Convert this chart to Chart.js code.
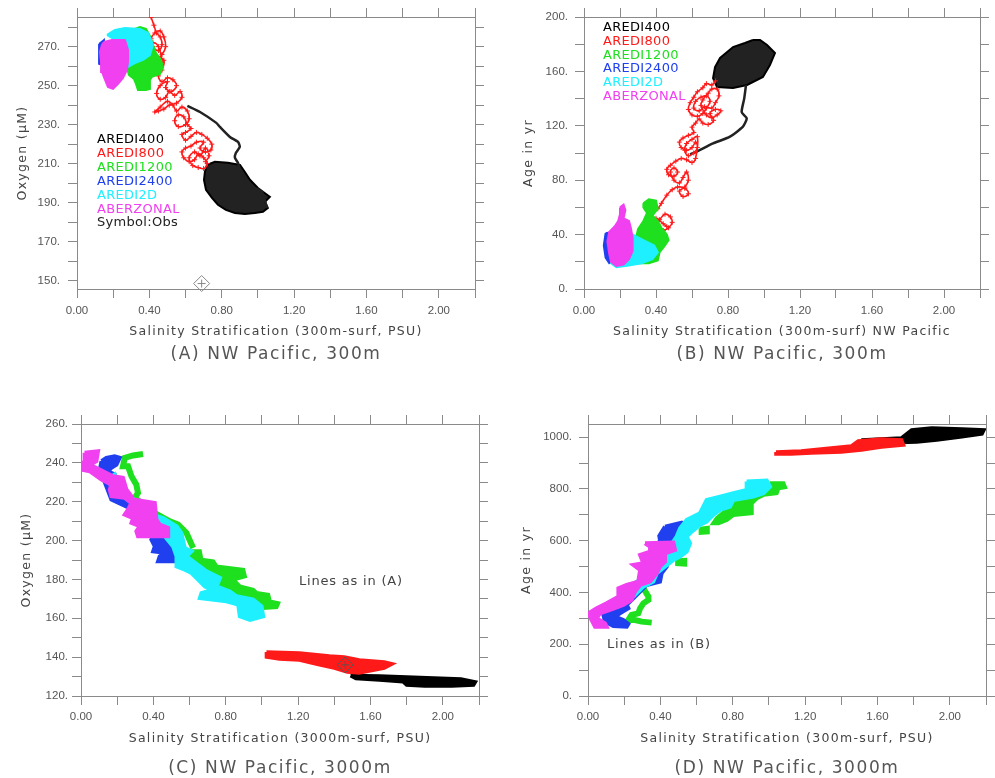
<!DOCTYPE html>
<html>
<head>
<meta charset="utf-8">
<script src="https://cdn.jsdelivr.net/npm/chart.js@4.4.1/dist/chart.umd.min.js"></script>
<style>
  body { margin: 0; background: #fff; width: 995px; height: 778px; position: relative; overflow: hidden; font-family: "DejaVu Sans", sans-serif; }
  canvas { position: absolute; }
  .t { position: absolute; white-space: nowrap; transform: translate(-50%, -50%); color: #444; }
  .ax { font-size: 12.5px; letter-spacing: 1.3px; }
  .cap { font-size: 17px; letter-spacing: 1.6px; color: #555; }
  .rot { transform: translate(-50%, -50%) rotate(-90deg); }
  .lg { position: absolute; white-space: nowrap; transform: translateY(-50%); font-size: 13px; letter-spacing: 0.3px; }
  .note { position: absolute; white-space: nowrap; transform: translateY(-50%); font-size: 13px; letter-spacing: 0.8px; color: #444; }
</style>
</head>
<body>
<canvas id="panelA" width="497" height="389" style="left:0;top:0"></canvas>
<canvas id="panelB" width="498" height="389" style="left:497px;top:0"></canvas>
<canvas id="panelC" width="497" height="389" style="left:0;top:389px"></canvas>
<canvas id="panelD" width="498" height="389" style="left:497px;top:389px"></canvas>

<div class="t ax" style="left:276px;top:330px">Salinity Stratification (300m-surf, PSU)</div>
<div class="t cap" style="left:276px;top:353px">(A) NW Pacific, 300m</div>
<div class="t ax rot" style="left:21px;top:153px">Oxygen (μM)</div>

<div class="t ax" style="left:782px;top:330px">Salinity Stratification (300m-surf) NW Pacific</div>
<div class="t cap" style="left:782px;top:353px">(B) NW Pacific, 300m</div>
<div class="t ax rot" style="left:527px;top:153px">Age in yr</div>

<div class="t ax" style="left:280px;top:737px">Salinity Stratification (3000m-surf, PSU)</div>
<div class="t cap" style="left:280px;top:767px">(C) NW Pacific, 3000m</div>
<div class="t ax rot" style="left:25px;top:560px">Oxygen (μM)</div>

<div class="t ax" style="left:787px;top:737px">Salinity Stratification (300m-surf, PSU)</div>
<div class="t cap" style="left:787px;top:767px">(D) NW Pacific, 3000m</div>
<div class="t ax rot" style="left:525px;top:560px">Age in yr</div>

<div class="note" style="left:299px;top:580px">Lines as in (A)</div>
<div class="note" style="left:607px;top:643px">Lines as in (B)</div>

<script>
// series
const seriesNames = ["AREDI400", "AREDI800", "AREDI1200", "AREDI2400", "AREDI2D", "ABERZONAL"];
const seriesColors = ["#000000", "#ff1a1a", "#1ee01e", "#2040f0", "#1ef0ff", "#f040f0"];

// axes
const xTicks = [0, 0.2, 0.4, 0.6, 0.8, 1.0, 1.2, 1.4, 1.6, 1.8, 2.0, 2.2];
const xLabels = [0, 0.4, 0.8, 1.2, 1.6, 2.0];
const aYTicks = [150, 160, 170, 180, 190, 200, 210, 220, 230, 240, 250, 260, 270, 280];
const aYLabels = [150, 170, 190, 210, 230, 250, 270];
const bYTicks = [0, 20, 40, 60, 80, 100, 120, 140, 160, 180, 200];
const bYLabels = [0, 40, 80, 120, 160, 200];
const cYTicks = [120, 130, 140, 150, 160, 170, 180, 190, 200, 210, 220, 230, 240, 250, 260];
const cYLabels = [120, 140, 160, 180, 200, 220, 240, 260];
const dYTicks = [0, 100, 200, 300, 400, 500, 600, 700, 800, 900, 1000];
const dYLabels = [0, 200, 400, 600, 800, 1000];

// (A) 300m oxygen
const aBlackTrail = [[0.61,239.6],[0.68,236.5],[0.77,230.9],[0.79,228.8],[0.845,223.7],[0.89,221.1],[0.90,218.6],[0.878,215.5],[0.873,213.0],[0.89,210.4],[0.90,206.8],[0.928,203.2],[0.972,198.1],[1.022,195.5],[1.05,187.3]];
const aBlack = [[0.718,209.3],[0.762,210.9],[0.834,210.4],[0.901,209.3],[0.928,205.7],[0.956,201.7],[1.0,197.5],[1.028,195.5],[1.066,193.0],[1.039,190.4],[1.055,187.3],[1.028,185.3],[0.983,184.7],[0.928,184.2],[0.873,184.7],[0.823,186.3],[0.779,188.9],[0.746,192.4],[0.713,196.5],[0.702,201.6],[0.707,205.7],[0.718,209.3]];
const aRed = [[0.41,285],[0.425,281],[0.44,277],[0.46,275],[0.47,271],[0.45,268],[0.42,270],[0.41,274],[0.43,277],[0.46,278],[0.48,275],[0.49,270],[0.47,266],[0.44,264],[0.41,266],[0.40,270],[0.42,272],[0.45,270],[0.47,262],[0.45,259],[0.43,261],[0.44,265],[0.48,263],[0.47,258],[0.45,255],
    [0.47,252],[0.50,254],[0.53,253],[0.55,250],[0.52,247],[0.49,249],[0.50,252],[0.46,250],[0.44,246],[0.46,243],[0.49,244],[0.51,247],[0.54,245],[0.57,247],[0.58,244],[0.55,241],[0.51,240],[0.48,238],[0.45,237],[0.43,236.5],[0.46,239],[0.50,242],[0.53,240],[0.55,237],
    [0.58,239],[0.61,237],[0.62,233],[0.60,230],[0.56,229],[0.54,232],[0.56,235],[0.59,234],[0.61,230],[0.63,228],[0.60,226],
    [0.58,225],[0.60,222],[0.63,224],[0.66,226],[0.69,225],[0.72,223],[0.745,220],[0.74,217],[0.71,216],[0.68,218],[0.70,221],[0.66,221],[0.63,219],[0.60,218],[0.58,216],[0.59,213],[0.62,211],[0.65,212],[0.67,215],[0.70,213],[0.72,210],[0.70,207.5],[0.67,208],[0.64,209],[0.62,213],[0.65,216],[0.68,214],[0.71,218],[0.73,214],[0.71,211]];
const aGreen = [[0.304,278.6],[0.348,280.1],[0.381,279.1],[0.403,275.5],[0.420,270.9],[0.436,266.8],[0.464,263.2],[0.475,259.6],[0.459,256.0],[0.414,254.5],[0.403,252.9],[0.403,248.3],[0.381,247.8],[0.337,247.8],[0.326,250.9],[0.315,253.4],[0.287,255.5],[0.276,259.1],[0.293,262.2],[0.348,264.2],[0.392,267.3],[0.348,273.4],[0.304,278.6]];
const aBlue = [[0.122,271.4],[0.149,273.4],[0.149,260.2],[0.122,261.2],[0.122,271.4]];
const aCyan = [[0.166,276.0],[0.210,278.6],[0.265,279.6],[0.348,279.1],[0.392,277.0],[0.420,270.9],[0.403,265.7],[0.365,263.2],[0.320,261.6],[0.282,259.6],[0.265,268.3],[0.210,273.4],[0.166,276.0]];
const aMagenta = [[0.149,272.4],[0.193,273.4],[0.265,273.4],[0.282,268.3],[0.282,262.2],[0.276,258.1],[0.254,254.0],[0.227,250.9],[0.199,248.3],[0.171,249.3],[0.155,252.9],[0.138,257.0],[0.133,262.2],[0.127,267.3],[0.138,270.9],[0.149,272.4]];
const aObs = [[0.689,148.5]];

// (B) 300m age
const bBlackTrail = [[0.90,150],[0.89,140],[0.876,130],[0.904,125.5],[0.883,119.4],[0.811,112],[0.717,107],[0.626,101],[0.589,99]];
const bBlack = [[0.939,183.1],[0.894,180.9],[0.828,177.9],[0.756,169.9],[0.728,163.2],[0.717,155.1],[0.739,148.5],[0.828,147.8],[0.906,150.0],[0.994,155.9],[1.033,164.7],[1.061,173.5],[1.017,179.4],[0.978,183.1],[0.939,183.1]];
const bRed = [[0.73,153],[0.71,150],[0.68,151],[0.66,148],[0.63,145],[0.61,141],[0.59,137],[0.58,132],[0.60,128],[0.63,127],[0.66,129],[0.68,133],[0.70,138],[0.68,142],[0.65,141],[0.62,138],[0.61,133],[0.64,131],[0.67,134],[0.71,133],[0.73,137],[0.75,142],[0.74,147],[0.71,147],[0.69,144],[0.66,139],[0.65,135],[0.68,128],[0.71,126],[0.74,128],[0.76,131],[0.73,132],[0.70,129],[0.72,124],[0.69,121],[0.66,122],[0.64,125],[0.62,122],[0.60,119],
    [0.61,115],[0.58,113],[0.55,111],[0.53,108],[0.54,104],[0.57,102],[0.60,104],[0.62,108],[0.63,104],[0.61,100],[0.58,98],[0.56,102],[0.57,107],[0.60,110],[0.63,112],[0.62,96],[0.60,93],
    [0.57,95],[0.54,96],[0.51,94],[0.48,91],[0.46,88],[0.47,84],[0.50,83],[0.52,86],[0.50,89],[0.48,86],[0.50,80],[0.53,78],[0.55,82],[0.57,86],[0.58,80],[0.56,75],[0.53,72],[0.55,68],[0.58,70],[0.56,74],[0.52,75],[0.49,73],
    [0.46,69],[0.43,63],[0.41,59],
    [0.38,57],[0.36,54],[0.35,50],[0.37,47],[0.40,48],[0.42,51],[0.45,55],[0.48,53],[0.49,49],[0.47,45],[0.44,43],[0.41,42],[0.38,44],[0.37,48],[0.40,52],[0.44,48],[0.46,46]];
const bGreen = [[0.33,63],[0.36,66],[0.40,65],[0.41,59],[0.38,54],[0.41,50],[0.43,45],[0.46,40],[0.47,36],[0.45,32],[0.42,27],[0.41,21],[0.36,19],[0.30,19],[0.27,22],[0.27,30],[0.29,38],[0.30,44],[0.33,50],[0.35,56],[0.33,60],[0.33,63]];
const bBlue = [[0.12,41],[0.16,42],[0.17,22],[0.14,19],[0.12,23],[0.11,32],[0.12,41]];
const bCyan = [[0.16,40],[0.27,40],[0.33,36],[0.39,32],[0.41,27],[0.38,22],[0.32,19],[0.24,17],[0.18,16],[0.15,19],[0.15,30],[0.16,40]];
const bMagenta = [[0.20,60],[0.22,62],[0.23,58],[0.22,52],[0.25,50],[0.26,45],[0.27,38],[0.27,28],[0.25,22],[0.22,18],[0.18,17],[0.15,20],[0.14,26],[0.13,35],[0.14,42],[0.17,46],[0.19,50],[0.20,55],[0.20,60]];

// (C) 3000m oxygen
const cBlack = [[1.49,130.5],[1.65,130.3],[1.80,129.8],[1.95,129.3],[2.10,128.8],[2.18,127.2],[2.17,125.6],[2.05,125.2],[1.90,125.2],[1.80,125.6],[1.78,127.3],[1.65,128.2],[1.52,129.0],[1.49,130.5]];
const cRed = [[1.025,142.7],[1.207,142.1],[1.373,140.6],[1.455,140.1],[1.538,138.5],[1.676,137.5],[1.720,136.5],[1.676,134.4],[1.621,133.4],[1.538,131.8],[1.472,132.4],[1.400,134.4],[1.318,136.0],[1.207,138.5],[1.097,139.1],[1.025,140.1],[1.025,142.7]];
const cGreenTop = [[0.343,244.6],[0.288,243.8],[0.242,242.6],[0.232,238.3],[0.260,238.3],[0.279,233.1],[0.306,228.8],[0.315,224.5],[0.297,222.0],[0.334,219.4],[0.389,215.1],[0.491,209.9],[0.537,208.2],[0.583,203.9],[0.620,196.2]];
const cGreen = [[0.611,194.5],[0.657,194.5],[0.666,190.2],[0.731,189.3],[0.749,186.7],[0.897,185.0],[0.906,181.6],[0.841,179.9],[0.878,176.4],[0.952,174.7],[0.970,173.0],[1.035,172.1],[1.044,168.7],[1.090,167.8],[1.081,165.8],[1.007,165.3],[0.915,168.7],[0.860,172.1],[0.786,176.4],[0.731,178.5],[0.657,183.3],[0.601,188.5],[0.583,191.9],[0.611,194.5]];
const cBlue = [[0.113,240.9],[0.140,242.6],[0.186,243.4],[0.214,242.6],[0.196,239.1],[0.168,237.4],[0.149,235.7],[0.186,234.0],[0.196,231.4],[0.159,228.8],[0.186,227.1],[0.223,224.5],[0.242,221.1],[0.389,213.4],[0.417,207.4],[0.454,204.8],[0.472,200.5],[0.509,197.0],[0.528,191.9],[0.518,189.3],[0.426,189.3],[0.435,191.9],[0.472,193.6],[0.399,194.5],[0.408,197.0],[0.389,200.5],[0.399,202.2],[0.362,203.9],[0.288,215.9],[0.168,221.1],[0.140,228.0],[0.122,232.3],[0.103,235.7],[0.113,240.9]];
const cCyan = [[0.159,232.3],[0.186,234.0],[0.196,230.5],[0.242,224.5],[0.306,220.2],[0.389,213.4],[0.454,211.6],[0.528,207.4],[0.555,203.9],[0.565,199.6],[0.574,196.2],[0.611,194.5],[0.583,191.9],[0.657,186.7],[0.694,184.2],[0.768,180.7],[0.749,176.4],[0.823,173.8],[0.860,171.3],[0.952,169.6],[0.998,166.1],[1.007,161.0],[0.934,159.2],[0.878,161.0],[0.869,167.0],[0.804,168.7],[0.657,170.4],[0.666,173.0],[0.731,174.7],[0.685,176.4],[0.657,179.0],[0.611,183.3],[0.574,185.0],[0.528,186.7],[0.528,191.9],[0.509,197.0],[0.463,202.2],[0.417,207.4],[0.389,210.8],[0.325,215.9],[0.279,219.4],[0.232,222.8],[0.177,227.1],[0.149,230.5],[0.159,232.3]];
const cMagenta = [[0.020,245.2],[0.094,246.0],[0.085,240.9],[0.048,239.1],[0.103,236.6],[0.177,233.1],[0.232,232.3],[0.251,226.3],[0.279,222.8],[0.288,221.1],[0.408,219.4],[0.417,210.8],[0.435,208.2],[0.482,206.5],[0.482,202.2],[0.315,202.2],[0.306,204.8],[0.325,207.4],[0.279,209.1],[0.288,211.6],[0.242,213.4],[0.260,215.9],[0.279,219.4],[0.242,222.0],[0.168,222.8],[0.159,226.3],[0.168,228.8],[0.113,231.4],[0.048,235.7],[0.0,236.6],[0.002,239.1],[0.020,240.9],[0.020,245.2]];
const cObs = [[1.46,136.0]];

// (D) 3000m age
const dBlack = [[1.511,989.6],[1.733,997.3],[1.789,1028.2],[1.900,1036.0],[2.067,1032.1],[2.189,1028.2],[2.178,1012.8],[2.067,1001.2],[1.928,989.6],[1.817,981.8],[1.622,978.0],[1.511,978.0],[1.511,989.6]];
const dRed = [[1.039,943.2],[1.178,947.0],[1.344,958.6],[1.456,966.4],[1.494,985.7],[1.622,993.4],[1.733,989.6],[1.744,970.2],[1.622,962.5],[1.511,950.9],[1.400,943.2],[1.233,939.3],[1.122,935.4],[1.039,935.4],[1.039,943.2]];
const dGreen = [[1.006,822.2],[1.080,822.2],[1.089,806.7],[1.053,802.8],[1.043,783.5],[0.970,777.1],[0.933,764.2],[0.905,744.8],[0.905,706.2],[0.804,699.7],[0.767,680.4],[0.721,667.5],[0.693,667.5],[0.712,686.9],[0.767,719.1],[0.804,744.8],[0.877,764.2],[0.914,783.5],[0.988,796.4],[1.006,822.2]];
const dGreenBitA = [[0.62,648],[0.665,652],[0.665,630],[0.62,628],[0.62,648]];
const dGreenBitB = [[0.49,526],[0.54,528],[0.54,506],[0.49,508],[0.49,526]];
const dGreenLow = [[0.306,416.2],[0.334,384.0],[0.334,371.1],[0.306,358.2],[0.288,338.9],[0.278,319.6],[0.241,313.1],[0.223,293.8],[0.260,293.8],[0.297,287.4],[0.352,283.5]];
const dBlue = [[0.426,654.6],[0.518,670.1],[0.546,654.6],[0.527,635.3],[0.490,628.9],[0.472,603.1],[0.490,577.3],[0.453,558.0],[0.417,538.7],[0.435,500.0],[0.407,474.2],[0.398,442.0],[0.324,429.1],[0.288,403.4],[0.241,371.1],[0.214,351.8],[0.223,338.9],[0.177,319.6],[0.149,306.7],[0.195,293.8],[0.223,278.4],[0.214,268.0],[0.140,270.6],[0.094,287.4],[0.085,313.1],[0.149,332.5],[0.186,358.2],[0.159,371.1],[0.195,390.5],[0.251,422.7],[0.306,442.0],[0.306,487.1],[0.352,525.8],[0.380,564.4],[0.398,603.1],[0.394,618.6],[0.426,654.6]];
const dCyan = [[0.877,828.6],[0.988,832.5],[1.006,809.3],[0.970,783.5],[0.914,770.6],[0.804,757.7],[0.785,732.0],[0.730,719.1],[0.693,699.7],[0.656,674.0],[0.619,661.1],[0.573,635.3],[0.546,616.0],[0.564,590.2],[0.546,558.0],[0.509,538.7],[0.472,525.8],[0.380,474.2],[0.361,442.0],[0.306,422.7],[0.251,384.0],[0.195,371.1],[0.186,384.0],[0.214,409.8],[0.269,442.0],[0.324,461.3],[0.380,500.0],[0.435,538.7],[0.453,577.3],[0.490,616.0],[0.509,648.2],[0.546,680.4],[0.619,706.2],[0.656,757.7],[0.730,770.6],[0.804,783.5],[0.877,796.4],[0.877,828.6]];
const dMagenta = [[0.315,590.2],[0.472,592.8],[0.481,564.4],[0.426,551.5],[0.426,519.3],[0.398,500.0],[0.380,474.2],[0.343,442.0],[0.288,429.1],[0.260,403.4],[0.241,371.1],[0.195,351.8],[0.122,332.5],[0.066,319.6],[0.048,300.3],[0.094,280.9],[0.103,268.0],[0.039,268.0],[0.020,293.8],[0.002,319.6],[0.048,338.9],[0.103,358.2],[0.168,384.0],[0.168,416.2],[0.214,429.1],[0.278,442.0],[0.288,487.1],[0.251,506.4],[0.306,512.9],[0.288,545.1],[0.343,558.0],[0.343,577.3],[0.315,590.2]];

const toXY = pts => pts.map(([x, y]) => ({ x, y }));

function blob(pts, color, order, width = 2, fillColor = color) {
    return { data: toXY(pts), borderColor: color, backgroundColor: fillColor, borderWidth: width, fill: "shape", pointRadius: 0, tension: 0, order };
}
function trail(pts, color, width, tension, order) {
    return { data: toXY(pts), borderColor: color, borderWidth: width, fill: false, pointRadius: 0, tension, order };
}
// dense "+" marked trajectory
function marked(pts, color, width, order) {
    return {
        data: toXY(pts), borderColor: color, borderWidth: width, fill: false, tension: 0.4, order,
        pointStyle: "cross", pointRadius: 2.5, pointBorderColor: color, pointBorderWidth: 1
    };
}
function obs(pts, color) {
    return [
        { data: toXY(pts), showLine: false, pointStyle: "rectRot", pointRadius: 8, pointBorderColor: color, pointBackgroundColor: "rgba(0,0,0,0)", pointBorderWidth: 1, clip: false, order: 0 },
        { data: toXY(pts), showLine: false, pointStyle: "cross", pointRadius: 4, pointBorderColor: color, pointBorderWidth: 1, clip: false, order: 0 }
    ];
}

function axis(pos, min, max, ticks, labels, fmt, size, pad) {
    const horiz = pos === "top" || pos === "bottom";
    return {
        type: "linear", position: pos, min, max,
        afterBuildTicks: s => { s.ticks = ticks.map(v => ({ value: v })); },
        afterFit: s => { if (horiz) s.height = size; else s.width = size; },
        ticks: {
            display: labels.length > 0, autoSkip: false, maxRotation: 0, padding: pad,
            color: "#555", font: { size: 11.5 },
            callback: v => labels.some(l => Math.abs(l - v) < 1e-9) ? fmt(v) : ""
        },
        grid: { drawOnChartArea: false, drawTicks: true, tickLength: 9, color: "#8a8a8a", lineWidth: 1 },
        border: { display: true, color: "#8a8a8a", width: 1 }
    };
}

function makePanel(id, box, yMin, yMax, yTicks, yLabels, yPad, xPad, datasets) {
    return new Chart(document.getElementById(id), {
        type: "line",
        data: { datasets },
        options: {
            responsive: false, animation: false, devicePixelRatio: 1, events: [],
            layout: { padding: 0 },
            plugins: { legend: { display: false }, tooltip: { enabled: false } },
            scales: {
                x: axis("bottom", 0, 2.2, xTicks, xLabels, v => v.toFixed(2), box.b, xPad),
                x2: axis("top", 0, 2.2, xTicks, [], null, box.t, 0),
                y: axis("left", yMin, yMax, yTicks, yLabels, v => v + ".", box.l, yPad),
                y2: axis("right", yMin, yMax, yTicks, [], null, box.r, 0)
            }
        }
    });
}

const [cK, cR, cG, cB, cC, cM] = seriesColors;
const darkFill = "rgba(10,10,10,0.9)";

makePanel("panelA", { l: 77, t: 17, r: 22, b: 100 }, 145.7, 285.2, aYTicks, aYLabels, 8, 6, [
    trail(aBlackTrail, "#222", 2.5, 0.2, 6),
    blob(aBlack, cK, 6, 2, darkFill),
    marked(aRed, cR, 1.6, 5),
    blob(aGreen, cG, 4),
    blob(aBlue, cB, 3),
    blob(aCyan, cC, 2),
    blob(aMagenta, cM, 1),
    ...obs(aObs, "#888")
]);

makePanel("panelB", { l: 87, t: 17, r: 15, b: 100 }, 0, 200, bYTicks, bYLabels, 7, 6, [
    trail(bBlackTrail, "#222", 2.5, 0.2, 6),
    blob(bBlack, cK, 6, 2, darkFill),
    marked(bRed, cR, 1.6, 5),
    blob(bGreen, cG, 4),
    blob(bBlue, cB, 3),
    blob(bCyan, cC, 2),
    blob(bMagenta, cM, 1)
]);

makePanel("panelC", { l: 81, t: 35, r: 18, b: 82 }, 120, 260, cYTicks, cYLabels, 4, 5, [
    blob(cBlack, cK, 6, 3.5),
    blob(cRed, cR, 5, 3.5),
    trail(cGreenTop, cG, 6, 0, 4),
    blob(cGreen, cG, 4, 4),
    blob(cBlue, cB, 3, 4),
    blob(cCyan, cC, 2, 4),
    blob(cMagenta, cM, 1, 4),
    ...obs(cObs, "#555")
]);

makePanel("panelD", { l: 91, t: 35, r: 9, b: 82 }, 0, 1051, dYTicks, dYLabels, 7, 5, [
    blob(dBlack, cK, 6, 3.5),
    blob(dRed, cR, 5, 3.5),
    blob(dGreen, cG, 4, 4),
    blob(dGreenBitA, cG, 4, 3),
    blob(dGreenBitB, cG, 4, 3),
    trail(dGreenLow, cG, 6, 0, 4),
    blob(dBlue, cB, 3, 4),
    blob(dCyan, cC, 2, 4),
    blob(dMagenta, cM, 1, 4)
]);

// legends inside panels A and B
function legend(left, top, step, extra) {
    const names = seriesNames.concat(extra ? [extra] : []);
    names.forEach((n, i) => {
        const d = document.createElement("div");
        d.className = "lg";
        d.textContent = n;
        d.style.left = left + "px";
        d.style.top = (top + i * step) + "px";
        d.style.color = i < seriesColors.length ? seriesColors[i] : "#222";
        document.body.appendChild(d);
    });
}
legend(97, 138, 13.9, "Symbol:Obs");
legend(603, 26, 13.75);
</script>
</body>
</html>
